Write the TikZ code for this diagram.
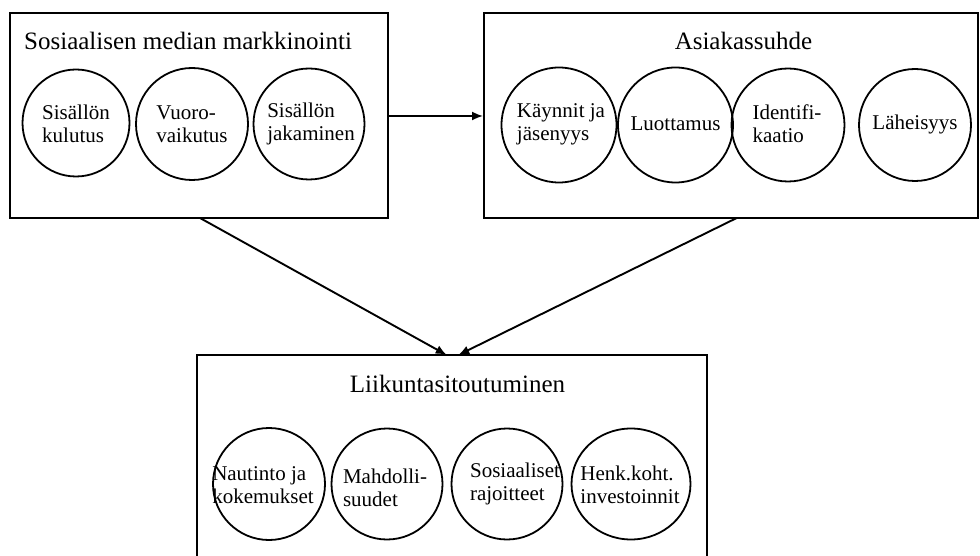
\documentclass[tikz,border=0pt]{standalone}
\usepackage{fontspec}
\setmainfont{Liberation Serif}
\usetikzlibrary{arrows.meta,shapes.geometric}
\begin{document}
\begin{tikzpicture}[x=1pt,y=-1pt,
  frame/.style={draw,line width=1.9pt},
  ring/.style={draw,circle,line width=1.8pt,inner sep=0pt,minimum size=#1},
  oval/.style={draw,ellipse,line width=1.8pt,inner sep=0pt},
  heading/.style={anchor=base,inner sep=0pt,font=\fontsize{25}{30}\selectfont},
  lbl/.style={align=left,inner sep=0pt,font=\fontsize{21}{23}\selectfont},
  link/.style={line width=1.9pt,-{Latex[length=11pt,width=9pt]}}]
\useasboundingbox (0,0) rectangle (980,556);
\clip (0,0) rectangle (980,556);

% outer frames
\node[frame,minimum width=378pt,minimum height=205pt,inner sep=0pt] (smm) at (199,115.5) {};
\node[frame,minimum width=494pt,minimum height=205pt,inner sep=0pt] (asi) at (731,115.5) {};
\node[frame,minimum width=510pt,minimum height=220pt,inner sep=0pt] (lii) at (452,465) {};

% headings
\node[heading,anchor=base west] (hsmm) at (24,50) {Sosiaalisen median markkinointi};
\node[heading] (hasi) at (743.5,50) {Asiakassuhde};
\node[heading] (hlii) at (457.5,392.5) {Liikuntasitoutuminen};

% social media marketing
\node[ring=107pt] (s1) at (76,123) {};
\node[ring=112pt] (s2) at (192,124) {};
\node[ring=111pt] (s3) at (309,124) {};
\node[lbl] (t1) at (76,124) {Sisällön\\kulutus};
\node[lbl] (t2) at (192,124) {Vuoro-\\vaikutus};
\node[lbl] (t3) at (311,124) {Sisällön\\jakaminen};

% customer relationship
\node[ring=115pt] (a1) at (559,125) {};
\node[ring=115pt] (a2) at (675.5,125) {};
\node[ring=113pt] (a3) at (788,125) {};
\node[ring=112pt] (a4) at (915,125) {};
\node[lbl] (u1) at (561,124) {Käynnit ja\\jäsenyys};
\node[lbl] (u2) at (675.5,124) {Luottamus};
\node[lbl] (u3) at (787,124) {Identifi-\\kaatio};
\node[lbl] (u4) at (915,124) {Läheisyys};

% exercise commitment
\node[ring=112pt] (l1) at (269,484) {};
\node[ring=111pt] (l2) at (387,484) {};
\node[ring=111pt] (l3) at (507,484) {};
\node[oval,minimum width=119pt,minimum height=111pt] (l4) at (631,484) {};
\node[lbl] (v1) at (263,485) {Nautinto ja\\kokemukset};
\node[lbl] (v2) at (385,488) {Mahdolli-\\suudet};
\node[lbl] (v3) at (515,484) {Sosiaaliset\\rajoitteet};
\node[lbl] (v4) at (630,484.5) {Henk.koht.\\investoinnit};

% connectors
\coordinate (pa) at (200,218);
\coordinate (pb) at (736.7,218);
\coordinate (qa) at (446.7,355);
\coordinate (qb) at (458.3,355);
\draw[link] (smm.east |- 0,116) -- (asi.west |- 0,116);
\draw[link] (pa) -- (qa);
\draw[link] (pb) -- (qb);
\end{tikzpicture}
\end{document}
